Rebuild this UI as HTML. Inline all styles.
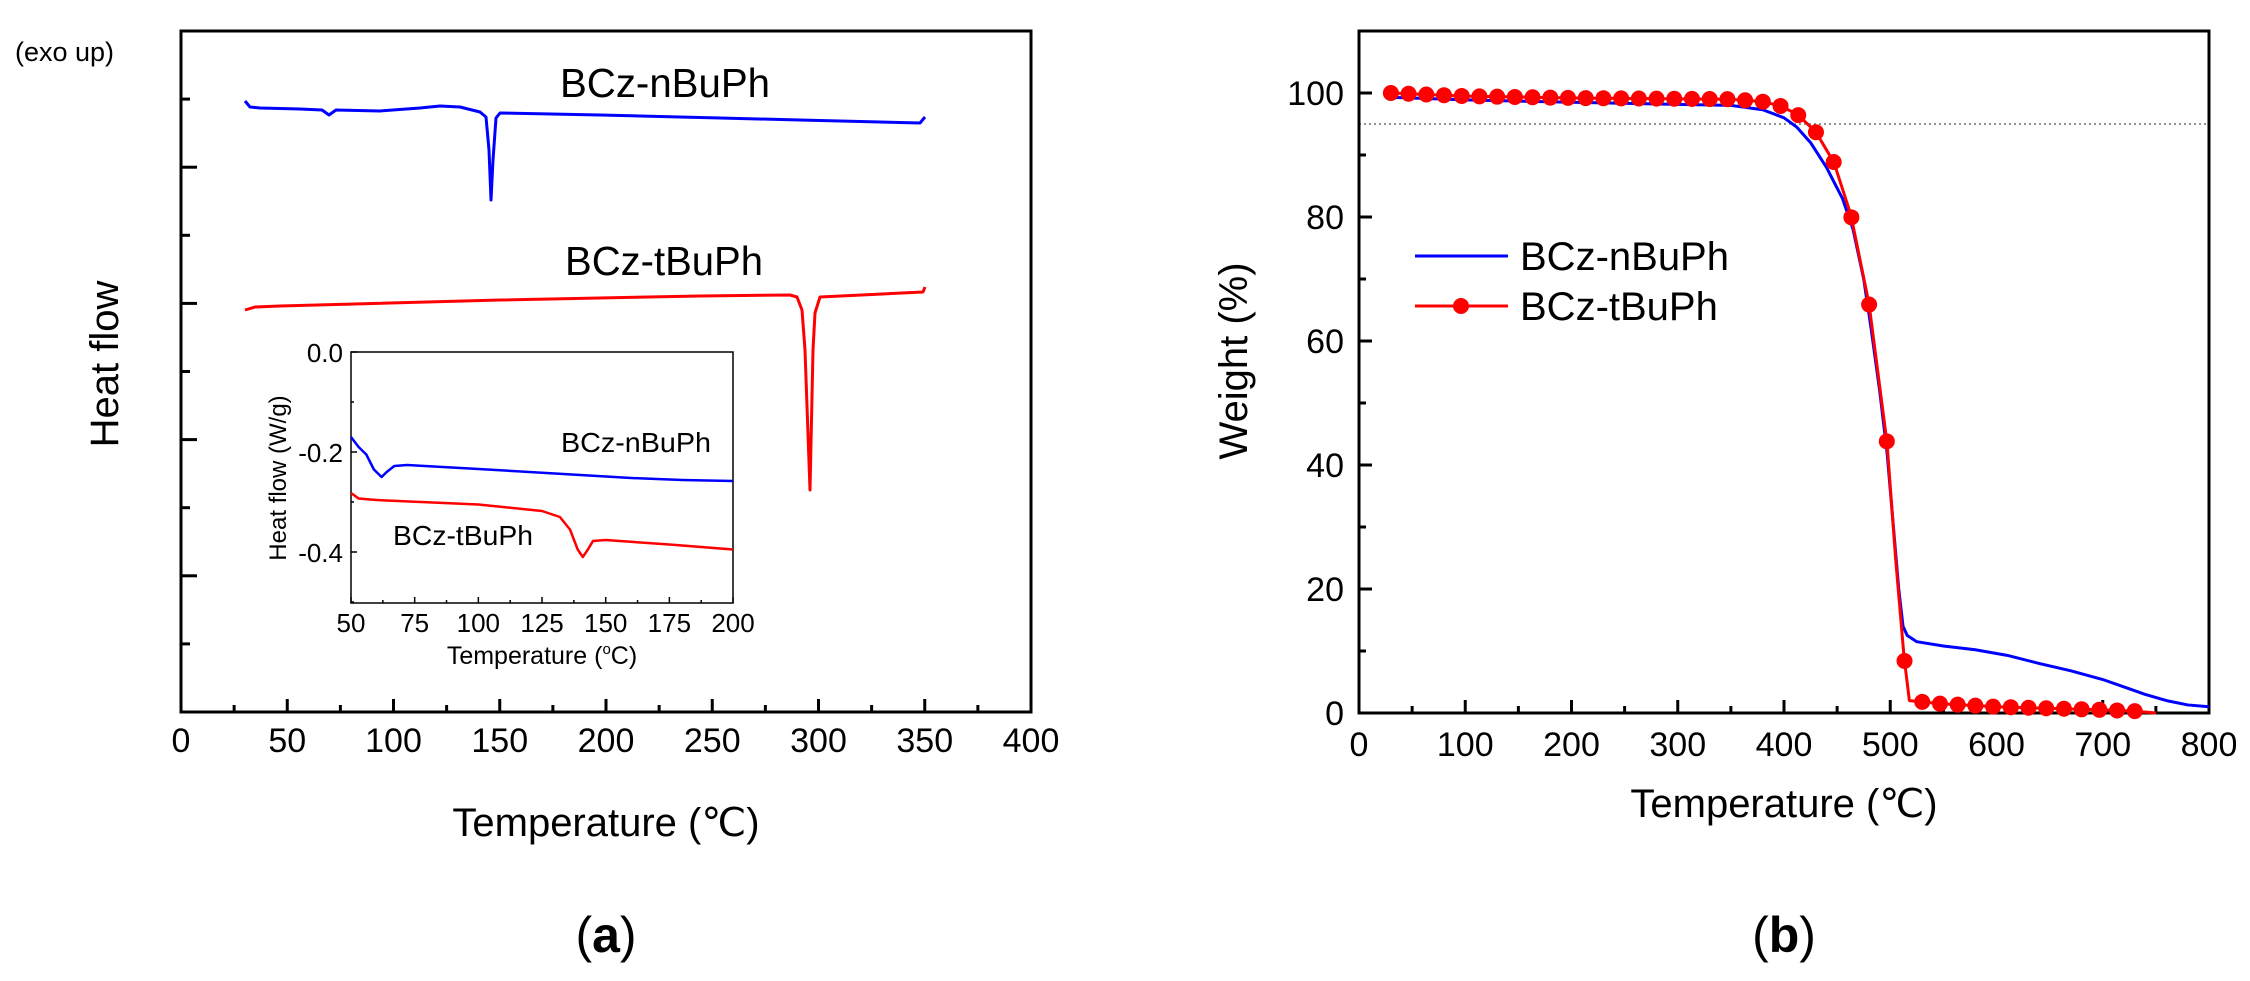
<!DOCTYPE html>
<html><head><meta charset="utf-8"><style>
html,body{margin:0;padding:0;background:#fff;}
svg{display:block;}
text{font-family:"Liberation Sans",Arial,sans-serif;fill:#000;}
</style></head><body>
<svg id="s" width="2250" height="981" viewBox="0 0 2250 981" xmlns="http://www.w3.org/2000/svg">
<g id="g"></g>
<!-- Left panel labels -->
<text x="15" y="61" font-size="27">(exo up)</text>
<text x="560" y="97" font-size="41" textLength="210" lengthAdjust="spacingAndGlyphs">BCz-nBuPh</text>
<text x="565" y="275" font-size="41" textLength="198" lengthAdjust="spacingAndGlyphs">BCz-tBuPh</text>
<text transform="translate(118,364) rotate(-90)" text-anchor="middle" font-size="40">Heat flow</text>
<text x="606" y="836" text-anchor="middle" font-size="40">Temperature (℃)</text>
<text x="606" y="952" text-anchor="middle" font-size="50" font-family="Liberation Serif,serif">(<tspan font-weight="bold">a</tspan>)</text>
<!-- inset labels -->
<text x="561" y="452" font-size="28" textLength="150" lengthAdjust="spacingAndGlyphs">BCz-nBuPh</text>
<text x="393" y="545" font-size="28" textLength="140" lengthAdjust="spacingAndGlyphs">BCz-tBuPh</text>
<text transform="translate(286,478) rotate(-90)" text-anchor="middle" font-size="24">Heat flow (W/g)</text>
<text x="542" y="664" text-anchor="middle" font-size="25">Temperature (<tspan font-size="15" dy="-10">o</tspan><tspan dy="10">C)</tspan></text>
<!-- Right panel labels -->
<text transform="translate(1247,361) rotate(-90)" text-anchor="middle" font-size="40">Weight (%)</text>
<text x="1784" y="817" text-anchor="middle" font-size="40">Temperature (℃)</text>
<text x="1784" y="952" text-anchor="middle" font-size="50" font-family="Liberation Serif,serif">(<tspan font-weight="bold">b</tspan>)</text>
<line x1="1415" y1="256" x2="1508" y2="256" stroke="#0000ff" stroke-width="3"/>
<line x1="1415" y1="306" x2="1508" y2="306" stroke="#ff0000" stroke-width="3"/>
<circle cx="1461" cy="306" r="8" fill="#ff0000"/>
<text x="1520" y="270" font-size="40">BCz-nBuPh</text>
<text x="1520" y="320" font-size="40">BCz-tBuPh</text>
</svg>
<script>
var g=document.getElementById('g');var NS="http://www.w3.org/2000/svg";
function el(t,a){var e=document.createElementNS(NS,t);for(var k in a)e.setAttribute(k,a[k]);g.appendChild(e);return e;}
function tx(x,y,s,fs,anc){var e=el('text',{x:x,y:y,'font-size':fs,'text-anchor':anc||'middle'});e.textContent=s;return e;}
function pl(pts,c,w){el('polyline',{points:pts.map(function(p){return p[0]+','+p[1]}).join(' '),fill:'none',stroke:c,'stroke-width':w||3,'stroke-linejoin':'round'});}
// Left main axes
el('rect',{x:181,y:31,width:850,height:681,fill:'none',stroke:'#000','stroke-width':3});
for(var T=0;T<=400;T+=25){var x=181+2.125*T;var maj=T%50==0;el('line',{x1:x,y1:712,x2:x,y2:712-(maj?13:7),stroke:'#000','stroke-width':3});if(maj)tx(x,752,String(T),34);}
for(var k=1;k<10;k++){var y=31+68.1*k;var lg=(k%2==0);el('line',{x1:181,y1:y,x2:181+(lg?16:9),y2:y,stroke:'#000','stroke-width':3});}
pl([[245,101],[250,107],[260,108],[300,109],[322,110],[329,115],[336,110],[380,111],[420,108],[440,106],[460,107],[480,112],[486,117],[489,150],[491,200],[493,160],[496,118],[500,113],[600,115],[720,118],[800,120],[920,123],[925,117]],'#0000ff');
pl([[245,310],[255,307],[280,306],[500,300],[700,296],[790,295],[797,297],[802,310],[805,350],[810,490],[813,350],[815,313],[820,297],[923,292],[925,287]],'#ff0000');
// inset
el('rect',{x:351,y:352,width:382,height:251,fill:'#fff',stroke:'#000','stroke-width':1.5});
for(var T=50;T<=200;T+=12.5){var x=351+2.547*(T-50);var maj=(T%25==0);el('line',{x1:x,y1:603,x2:x,y2:603-(maj?6:3),stroke:'#000','stroke-width':1.5});if(maj)tx(x,632,String(T),26);}
for(var v=0;v<=5;v++){var y=352+50*v;el('line',{x1:351,y1:y,x2:351+(v%2==0?6:3),y2:y,stroke:'#000','stroke-width':1.5});if(v%2==0&&v<5)tx(343,y+10,v==0?'0.0':'-0.'+(v),26,'end');}
pl([[351,437],[358.6,447],[366.3,454.5],[373.9,469.5],[381.6,477],[386.7,472],[394.3,466],[407,465],[478.4,469],[554.8,473.5],[631.2,478],[682.1,480],[733,481]],'#0000ff',2.5);
pl([[351,493],[358.6,498.5],[376.5,500],[478.4,504.5],[542,511],[559.9,517],[570,529.5],[577.7,549.5],[582.8,557],[587.9,549.5],[593,541],[605.7,540],[669.4,544.5],[733,549.5]],'#ff0000',2.5);
// Right panel
function X(T){return 1359+1.0625*T;} function Y(W){return 713-6.2*W;}
el('line',{x1:1359,y1:124,x2:2209,y2:124,stroke:'#555','stroke-width':1.2,'stroke-dasharray':'2,3'});
el('rect',{x:1359,y:31,width:850,height:682,fill:'none',stroke:'#000','stroke-width':3});
for(var T=0;T<=800;T+=50){var x=X(T);var maj=T%100==0;el('line',{x1:x,y1:713,x2:x,y2:713-(maj?13:7),stroke:'#000','stroke-width':3});if(maj)tx(x,756,String(T),34);}
for(var W=10;W<=100;W+=10){var y=Y(W);var maj=W%20==0;el('line',{x1:1359,y1:y,x2:1359+(maj?13:7),y2:y,stroke:'#000','stroke-width':3});}
for(var W=0;W<=100;W+=20){tx(1344,Y(W)+12,String(W),34,'end');}
var B=[[30,99.3],[100,98.9],[200,98.5],[350,98],[380,97.3],[400,96],[412,94.5],[425,92],[440,88],[455,83],[465,78],[475,70],[482,62],[490,52],[497,42],[503,30],[508,20],[512,14],[516,12.5],[525,11.5],[550,10.8],[580,10.2],[610,9.3],[640,8],[670,6.8],[700,5.4],[720,4.2],[740,3],[760,2],[780,1.3],[800,1]];
var R=[[30,100],[100,99.5],[200,99.2],[350,99],[380,98.6],[397,97.9],[413,96.5],[430,93.7],[447,88.8],[463,80.3],[480,66],[497,43.5],[505,25],[513,9],[518,2],[530,1.8],[547,1.5],[600,1],[700,0.5],[730,0.3],[750,0]];
function interp(A,T){for(var i=1;i<A.length;i++){if(T<=A[i][0]){var a=A[i-1],b=A[i];return a[1]+(b[1]-a[1])*(T-a[0])/(b[0]-a[0]);}}return A[A.length-1][1];}
pl(B.map(function(p){return [X(p[0]),Y(p[1])]}),'#0000ff');
pl(R.map(function(p){return [X(p[0]),Y(p[1])]}),'#ff0000');
for(var k=0;k<=42;k++){var T=30+16.67*k;el('circle',{cx:X(T),cy:Y(interp(R,T)),r:8,fill:'#ff0000'});}
</script>
</body></html>
